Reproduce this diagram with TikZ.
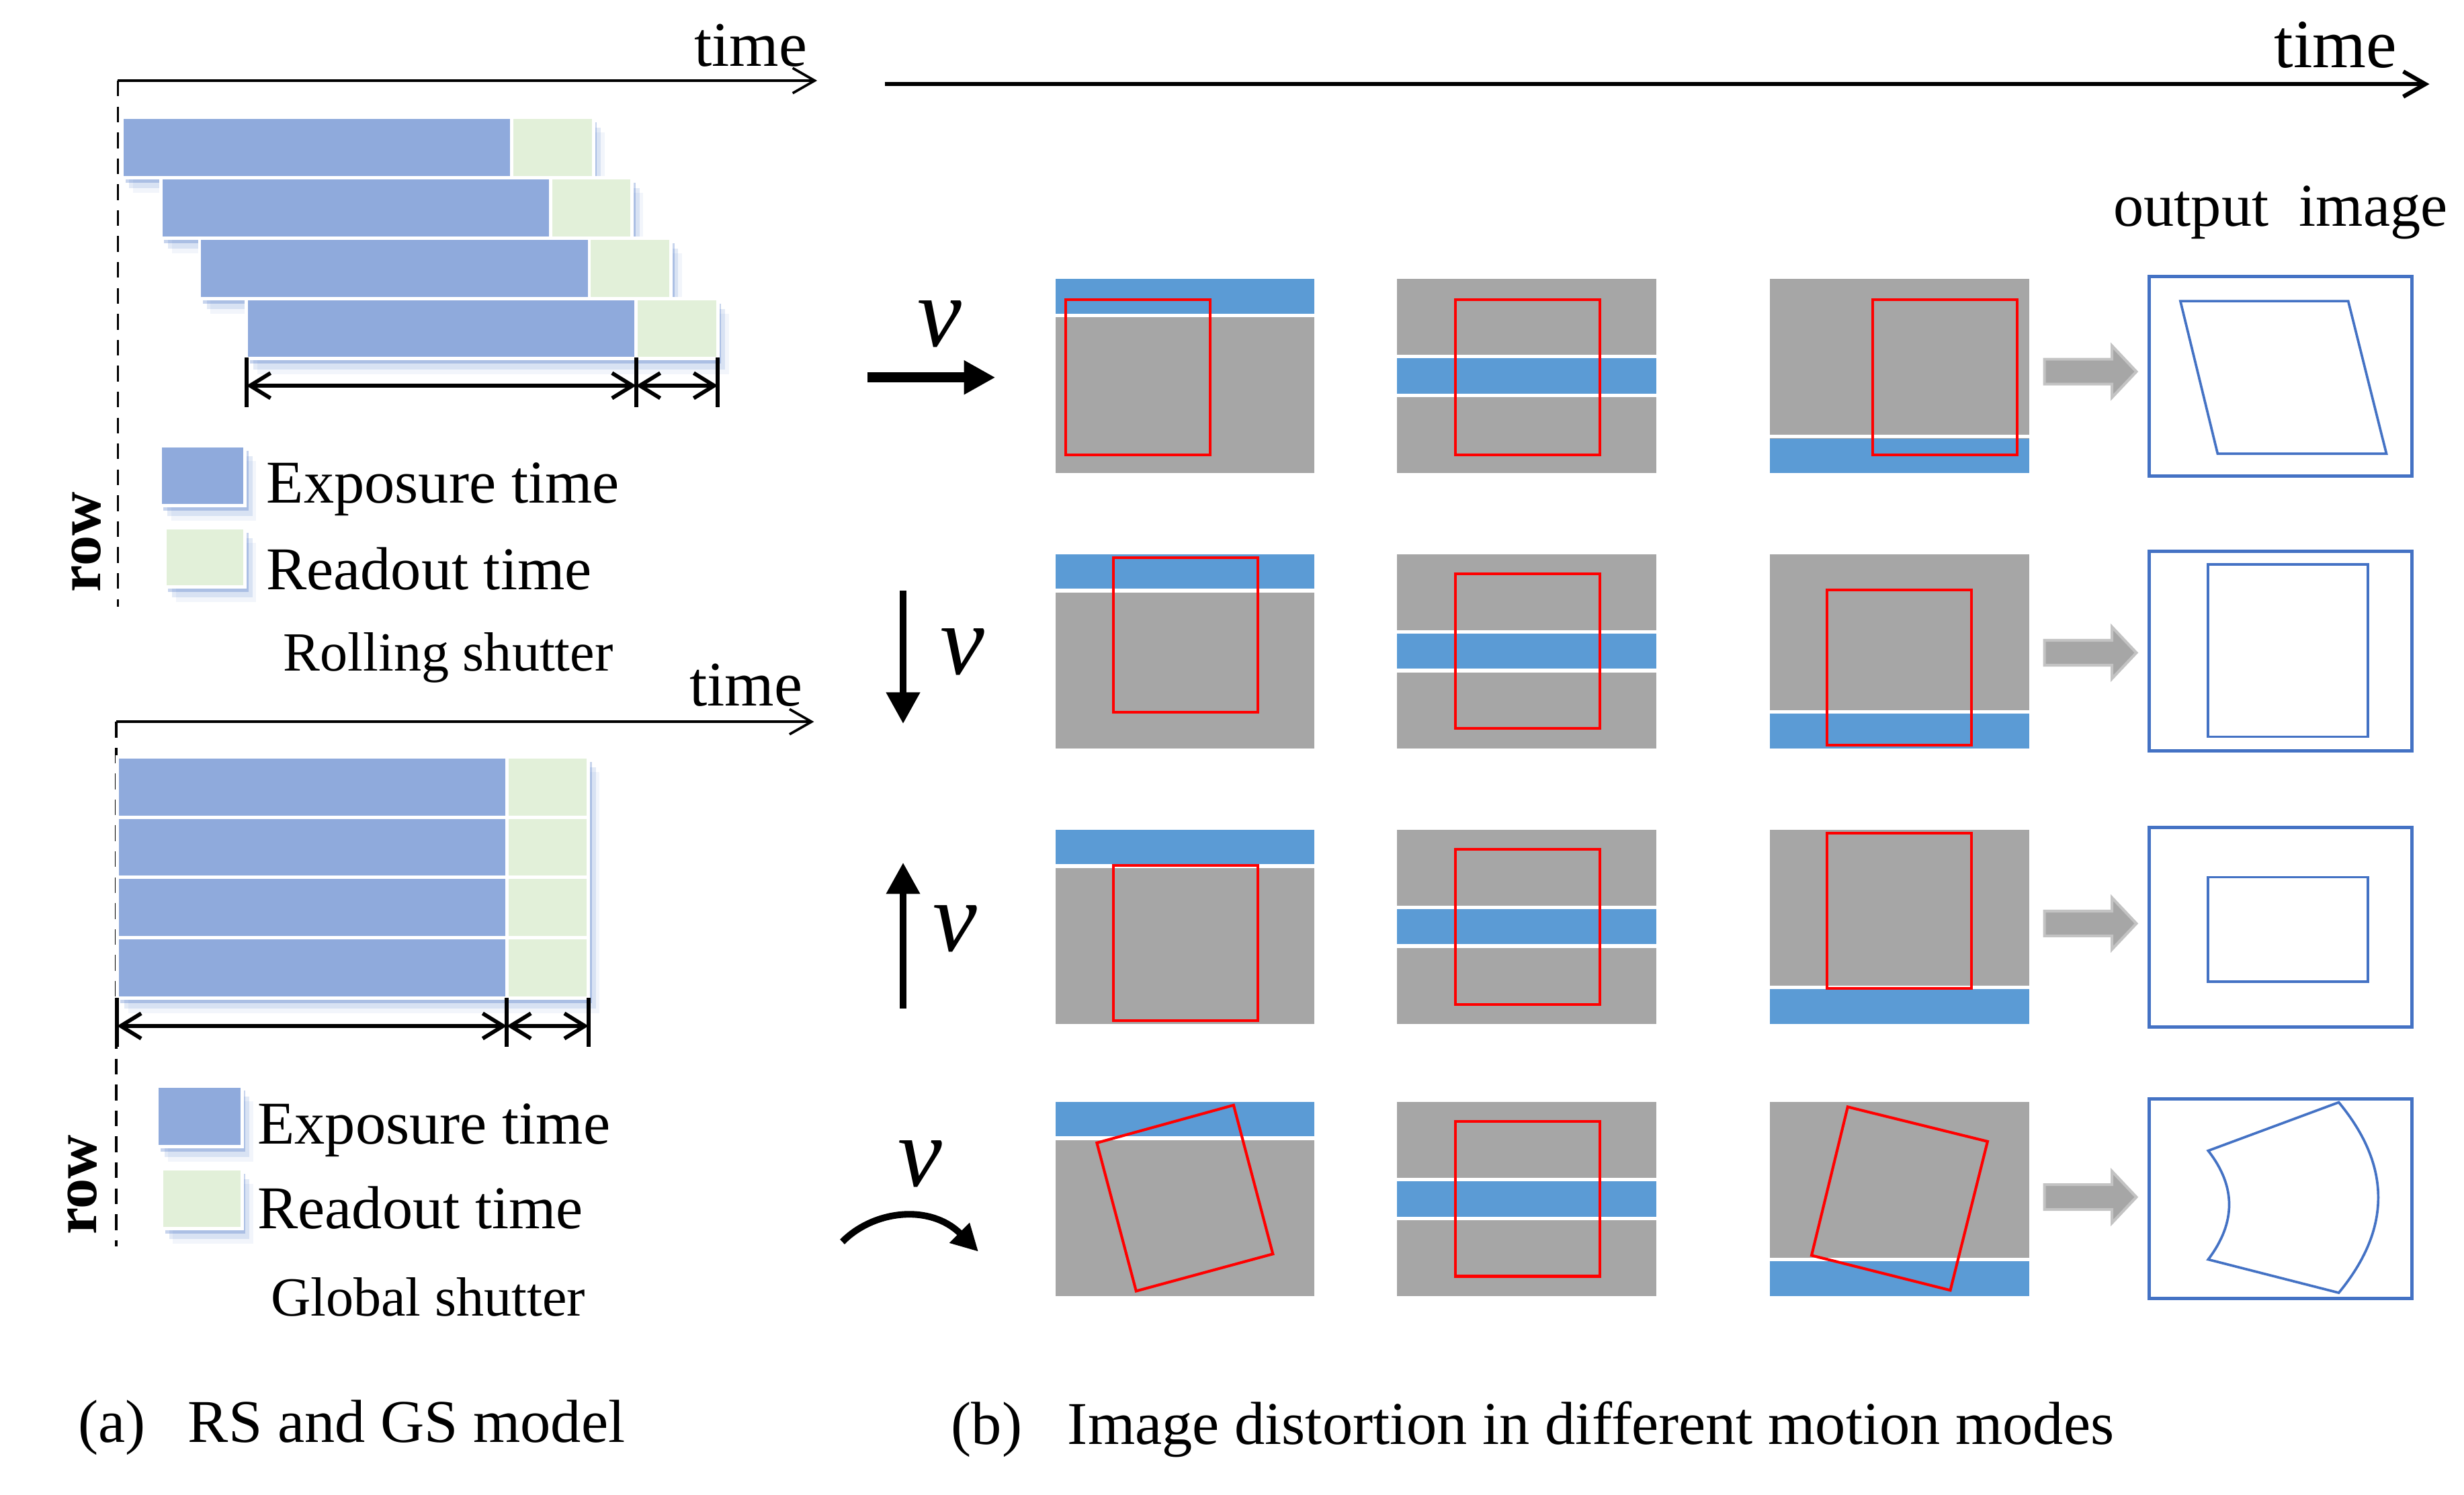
\documentclass[tikz,border=0pt]{standalone}
\usepackage{fontspec}
\setmainfont{Liberation Serif}
\usetikzlibrary{arrows.meta, shadows}

\definecolor{expblue}{HTML}{8FAADC}
\definecolor{readgreen}{HTML}{E2F0D9}
\definecolor{glowblue}{HTML}{4472C4}
\definecolor{panelgray}{HTML}{A6A6A6}
\definecolor{bandblue}{HTML}{5B9BD5}
\definecolor{outblue}{HTML}{4472C4}
\definecolor{arrowedge}{HTML}{C3C3C3}

\begin{document}
\begin{tikzpicture}[x=0.02cm, y=-0.02cm,
    glow/.style={drop shadow={fill=glowblue, opacity=.3, shadow xshift=1.2pt, shadow yshift=-1.8pt},
                 drop shadow={fill=glowblue, opacity=.15, shadow xshift=2.6pt, shadow yshift=-3.8pt},
                 drop shadow={fill=glowblue, opacity=.07, shadow xshift=4pt, shadow yshift=-5.5pt}},
    expbar/.style={fill=expblue, draw=white, line width=1.2pt},
    readbar/.style={fill=readgreen, draw=white, line width=1.2pt},
    timeaxis/.style={line width=0.9pt, -{Straight Barb[length=0.28cm, width=0.32cm]}},
    rowaxis/.style={line width=0.9pt, dash pattern=on 0.2cm off 0.13cm},
    dimline/.style={line width=1.4pt, {Straight Barb[length=0.26cm, width=0.32cm]}-{Straight Barb[length=0.26cm, width=0.32cm]}},
    dimtick/.style={line width=1.4pt},
    txt/.style={inner sep=0, anchor=base west, font=\fontsize{22}{26}\selectfont},
    rowlbl/.style={inner sep=0, rotate=90, font=\fontsize{22}{26}\selectfont\bfseries},
    vlbl/.style={inner sep=0, font=\fontsize{36}{40}\selectfont\itshape},
    bandfill/.style={fill=bandblue},
    bandedge/.style={draw=white, line width=1.3pt},
    redframe/.style={draw=red, line width=1pt},
    outbox/.style={draw=outblue, line width=1.2pt, minimum width=3.346cm, minimum height=2.54cm, inner sep=0},
    outshape/.style={draw=outblue, line width=0.9pt},
    blockarrow/.style={fill=panelgray, draw=arrowedge, line width=1pt},
    motion/.style={line width=#1, -{Triangle[length=0.4cm, width=0.41cm]}},
    motion/.default=2.5pt]

    \useasboundingbox (0,0) rectangle (1568,951);

    % 1. Rolling shutter
    \coordinate (rs-o) at (75,51.3);
    \coordinate (rs-t) at (520,51.3);
    \coordinate (rs-b) at (75,386);
    \draw[timeaxis] (rs-o) -- (rs-t);
    \draw[rowaxis] (rs-o) -- (rs-b);
    \node[txt, anchor=base east, font=\fontsize{23}{26}\selectfont] (rs-time) at (514,42.3) {time};
    \node[rowlbl] (rs-row) at (55,345) {row};

    \foreach \s [count=\i from 0] in {77.7,102.3,127,156.8}
        \path[glow] (\s,74.7+\i*38.4) rectangle ++(300,38.4);
    \foreach \s [count=\i from 0] in {77.7,102.3,127,156.8} {
        \filldraw[expbar] (\s,74.7+\i*38.4) rectangle ++(248,38.4);
        \filldraw[readbar] (\s+248,74.7+\i*38.4) rectangle ++(52,38.4);
    }

    \draw[dimtick] (156.8,227.5) -- (156.8,259);
    \draw[dimtick] (404.8,227.5) -- (404.8,259);
    \draw[dimtick] (456.8,227.5) -- (456.8,259);
    \draw[dimline] (156.8,245.4) -- (404.8,245.4);
    \draw[dimline] (404.8,245.4) -- (456.8,245.4);

    \path[glow] (102,283.6) rectangle (156,321.8);
    \path[glow] (105,336) rectangle (156,373.6);
    \filldraw[expbar] (102,283.6) rectangle (156,321.8);
    \filldraw[readbar] (105,336) rectangle (156,373.6);
    \node[txt] (rs-exp) at (169.4,320) {Exposure time};
    \node[txt] (rs-read) at (169,375) {Readout time};
    \node[txt, font=\fontsize{20}{24}\selectfont] (rs-name) at (180,427) {Rolling shutter};

    % 2. Global shutter
    \coordinate (gs-o) at (74,459.3);
    \coordinate (gs-t) at (518,459.3);
    \coordinate (gs-b) at (74,793);
    \draw[timeaxis] (gs-o) -- (gs-t);
    \draw[rowaxis] (gs-o) -- (gs-b);
    \node[txt, anchor=base east, font=\fontsize{23}{26}\selectfont] (gs-time) at (511,449.3) {time};
    \node[rowlbl] (gs-row) at (52.5,754) {row};

    \path[glow] (74.5,481.6) rectangle ++(300,153.6);
    \foreach \i in {0,1,2,3} {
        \filldraw[expbar] (74.5,481.6+\i*38.4) rectangle ++(248,38.4);
        \filldraw[readbar] (322.5,481.6+\i*38.4) rectangle ++(52,38.4);
    }

    \draw[dimtick] (74.5,635) -- (74.5,666);
    \draw[dimtick] (322.5,635) -- (322.5,666);
    \draw[dimtick] (374.5,635) -- (374.5,666);
    \draw[dimline] (74.5,652.9) -- (322.5,652.9);
    \draw[dimline] (322.5,652.9) -- (374.5,652.9);

    \path[glow] (100,691) rectangle (154,729.7);
    \path[glow] (103,743.7) rectangle (154,782);
    \filldraw[expbar] (100,691) rectangle (154,729.7);
    \filldraw[readbar] (103,743.7) rectangle (154,782);
    \node[txt] (gs-exp) at (163.6,728) {Exposure time};
    \node[txt] (gs-read) at (163.6,782) {Readout time};
    \node[txt, font=\fontsize{20}{24}\selectfont] (gs-name) at (172,837.5) {Global shutter};

    \node[txt] (cap-a) at (49.4,918) {(a)\hspace{0.7em}RS and GS model};

    % 3. Motion modes
    \coordinate (mm-o) at (563,53.5);
    \coordinate (mm-t) at (1546,53.5);
    \draw[timeaxis, line width=1.5pt] (mm-o) -- (mm-t);
    \node[txt, anchor=base east, font=\fontsize{25}{28}\selectfont] (mm-time) at (1525.6,43) {time};
    \node[txt] (out-lbl) at (1344.6,144) {output~~image};

    \foreach \ty [count=\r] in {177.4,352.6,527.9,701.1} {
        \foreach \px in {671.6,889,1126.4}
            \fill[panelgray] (\px,\ty) rectangle ++(164.8,123.8);
        \fill[bandfill] (671.6,\ty) rectangle ++(164.8,22.2);
        \draw[bandedge] (671.6,\ty+23.3) -- ++(164.8,0);
        \fill[bandfill] (889,\ty+50.6) rectangle ++(164.8,22.5);
        \draw[bandedge] (889,\ty+49.5) -- ++(164.8,0);
        \draw[bandedge] (889,\ty+74.2) -- ++(164.8,0);
        \fill[bandfill] (1126.4,\ty+101.6) rectangle ++(164.8,22.2);
        \draw[bandedge] (1126.4,\ty+100.4) -- ++(164.8,0);
    }

    % red frames
    \draw[redframe] (678.2,190.7) rectangle ++(92,98.6);
    \draw[redframe] (926,190.7) rectangle ++(92,98.6);
    \draw[redframe] (1191.7,190.7) rectangle ++(92,98.6);
    \draw[redframe] (708.5,354.8) rectangle ++(92,98.6);
    \draw[redframe] (926,365) rectangle ++(92,98.6);
    \draw[redframe] (1162.7,375.5) rectangle ++(92,98.6);
    \draw[redframe] (708.5,550.8) rectangle ++(92,98.6);
    \draw[redframe] (926,540.6) rectangle ++(92,98.6);
    \draw[redframe] (1162.7,530.3) rectangle ++(92,98.6);
    \draw[redframe] (785,703.3) -- (810,798) -- (723,821.6) -- (698,727.3) -- cycle;
    \draw[redframe] (926,713.6) rectangle ++(92,98.6);
    \draw[redframe] (1175.8,704.4) -- (1264.8,726.4) -- (1241.1,821.1) -- (1152.8,798.9) -- cycle;

    % gray arrows and output images
    \foreach \cy in {236.5,415.4,587.7,761.8}
        \filldraw[blockarrow] (1301,\cy-7.9) -- (1344,\cy-7.9) -- (1344,\cy-16.4) -- (1359.5,\cy)
            -- (1344,\cy+16.4) -- (1344,\cy+7.9) -- (1301,\cy+7.9) -- cycle;
    \foreach \ty [count=\r] in {175.9,350.8,526.6,699.4}
        \node[outbox] (out-\r) at (1451.35,\ty+63.5) {};
    \draw[outshape] (1387.5,191.6) -- (1494.3,191.6) -- (1518.6,288.7) -- (1411.2,288.7) -- cycle;
    \draw[outshape] (1405.2,359.1) rectangle (1506.7,468.9);
    \draw[outshape] (1405.2,558.2) rectangle (1506.7,624.8);
    \draw[outshape] (1488.3,701.5) -- (1405.2,732.3) .. controls (1423,755) and (1423,778) .. (1405.2,801.5)
        -- (1488.3,822.7) .. controls (1521.8,782) and (1521.8,742) .. (1488.3,701.5) -- cycle;

    % motion arrows
    \coordinate (m1-a) at (552,240.2);
    \coordinate (m1-b) at (633.4,240.2);
    \draw[motion=3.6pt] (m1-a) -- (m1-b);
    \node[vlbl] (v1) at (598,206) {v};
    \coordinate (m2-a) at (574.7,376);
    \coordinate (m2-b) at (574.7,460.6);
    \draw[motion=2.6pt] (m2-a) -- (m2-b);
    \node[vlbl] (v2) at (612.6,415) {v};
    \coordinate (m3-a) at (574.7,641.8);
    \coordinate (m3-b) at (574.7,548.9);
    \draw[motion=2.6pt] (m3-a) -- (m3-b);
    \node[vlbl] (v3) at (607.6,591) {v};
    \coordinate (m4-a) at (536,790.3);
    \coordinate (m4-b) at (622.6,796.5);
    \draw[line width=2.4pt, -{Triangle[length=0.34cm, width=0.34cm]}] (m4-a) .. controls (556,770) and (592,766) .. (m4-b);
    \node[vlbl] (v4) at (585.7,740.7) {v};

    \node[txt] (cap-b) at (605,919) {(b)\hspace{0.75em}Image distortion in different motion modes};
\end{tikzpicture}
\end{document}
